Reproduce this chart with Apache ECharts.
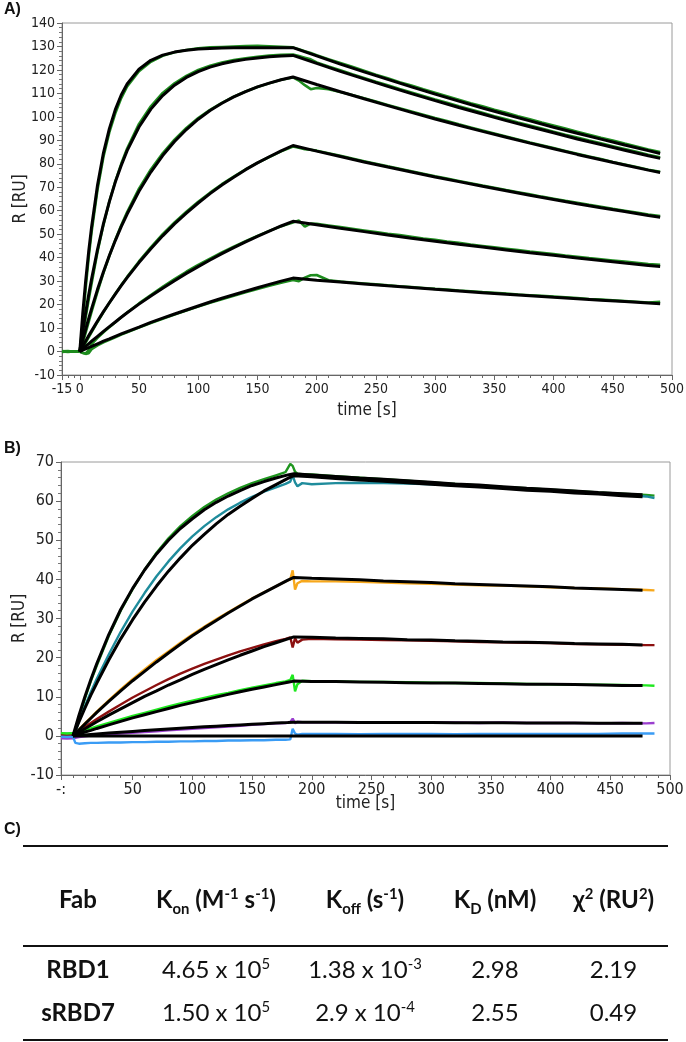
<!DOCTYPE html>
<html><head><meta charset="utf-8">
<script src="https://cdn.jsdelivr.net/npm/echarts@6/dist/echarts.min.js"></script>
<style>
html,body{margin:0;padding:0;background:#fff;}
#chart{position:absolute;left:0;top:0;width:686px;height:1042px;}
#tbl{position:absolute;left:23px;top:845px;width:645px;font-family:Lato,'Noto Sans',sans-serif;color:#111;}
#tbl table{border-collapse:collapse;width:645px;table-layout:fixed;}
#tbl td{text-align:center;padding:0;white-space:nowrap;line-height:1;}
#tbl .hdr td{font-weight:bold;font-size:24px;height:92px;border-top:2.5px solid #111;border-bottom:2.5px solid #111;padding-top:6px;}
#tbl .row td{font-size:24px;}
#tbl .r0 td{height:44px;}
#tbl .r1 td{height:42px;padding-bottom:6px;border-bottom:2.5px solid #111;}
#tbl .row td:first-child{font-weight:bold;}
sup,sub{font-size:62%;line-height:0;}
</style></head>
<body>
<div id="chart"></div>
<div id="tbl"></div>
<script>
// ---------- Panel A data ----------
const xTicksA = [-15, 0, 50, 100, 150, 200, 250, 300, 350, 400, 450, 500];
const xMinorA = [-10, -5, 10, 20, 30, 40, 60, 70, 80, 90, 110, 120, 130, 140, 160, 170, 180, 190, 210, 220, 230, 240, 260, 270, 280, 290, 310, 320, 330, 340, 360, 370, 380, 390, 410, 420, 430, 440, 460, 470, 480, 490];
const tFitA = [0, 2.5, 5, 7.5, 10, 15, 20, 25, 30, 35, 40, 50, 60, 70, 80, 90, 100, 110, 120, 130, 140, 150, 160, 170, 180, 200, 220, 240, 260, 280, 300, 320, 340, 360, 380, 400, 420, 440, 460, 480, 490];
const fitA1 = [0, 16.1, 30.2, 42.5, 53.2, 71.0, 84.7, 95.0, 103.1, 109.3, 114.0, 120.3, 124.1, 126.3, 127.6, 128.4, 128.9, 129.1, 129.3, 129.4, 129.4, 129.5, 129.5, 129.5, 129.5, 126.0, 122.5, 119.2, 116.0, 112.8, 109.7, 106.7, 103.8, 101.0, 98.3, 95.6, 93.0, 90.5, 88.0, 85.6, 84.4];
const fitA2 = [0, 8.6, 16.6, 24.1, 31.0, 43.6, 54.5, 63.9, 72.2, 79.3, 85.6, 95.7, 103.3, 109.1, 113.5, 116.8, 119.3, 121.2, 122.6, 123.7, 124.5, 125.1, 125.6, 125.9, 126.2, 122.8, 119.4, 116.2, 113.0, 109.9, 106.9, 104.0, 101.2, 98.4, 95.8, 93.2, 90.6, 88.2, 85.8, 83.4, 82.3];
const fitA3 = [0, 4.9, 9.5, 14.0, 18.3, 26.5, 34.0, 40.9, 47.3, 53.2, 58.6, 68.3, 76.5, 83.5, 89.5, 94.6, 99.0, 102.7, 105.8, 108.5, 110.8, 112.8, 114.4, 115.8, 117.0, 113.8, 110.7, 107.7, 104.8, 101.9, 99.1, 96.4, 93.8, 91.3, 88.8, 86.4, 84.0, 81.7, 79.5, 77.3, 76.3];
const fitA4 = [0, 2.3, 4.5, 6.7, 8.8, 13.0, 17.0, 20.8, 24.5, 28.1, 31.5, 37.9, 43.8, 49.3, 54.4, 59.0, 63.3, 67.3, 71.0, 74.3, 77.5, 80.4, 83.0, 85.5, 87.8, 85.4, 83.1, 80.8, 78.6, 76.5, 74.4, 72.4, 70.4, 68.5, 66.6, 64.8, 63.0, 61.3, 59.7, 58.0, 57.2];
const fitA5 = [0, 1.1, 2.2, 3.3, 4.4, 6.5, 8.6, 10.6, 12.6, 14.6, 16.5, 20.2, 23.7, 27.0, 30.2, 33.3, 36.2, 39.0, 41.7, 44.3, 46.7, 49.1, 51.3, 53.5, 55.5, 54.0, 52.5, 51.1, 49.7, 48.3, 47.0, 45.7, 44.5, 43.3, 42.1, 41.0, 39.9, 38.8, 37.7, 36.7, 36.2];
const fitA6 = [0, 0.6, 1.1, 1.7, 2.2, 3.3, 4.4, 5.4, 6.5, 7.5, 8.5, 10.4, 12.4, 14.2, 16.0, 17.7, 19.4, 21.1, 22.7, 24.2, 25.7, 27.2, 28.6, 30.0, 31.3, 30.4, 29.6, 28.8, 28.0, 27.3, 26.5, 25.8, 25.1, 24.4, 23.8, 23.1, 22.5, 21.9, 21.3, 20.7, 20.4];

const tDataA = [-15, -10, -5, 0, 2.5, 5, 7.5, 10, 15, 20, 25, 30, 35, 40, 50, 60, 70, 80, 90, 100, 110, 120, 130, 140, 150, 160, 170, 180, 185, 190, 195, 200, 210, 220, 230, 240, 250, 260, 270, 280, 290, 300, 310, 320, 330, 340, 350, 360, 370, 380, 390, 400, 410, 420, 430, 440, 450, 460, 470, 480, 490];
const dataA1 = [0.2, -0.1, 0.1, 0.0, 12, 27, 40, 51, 69, 83, 93.5, 101.5, 108, 113, 119.5, 123.5, 126, 127.5, 128.5, 129.2, 129.6, 129.8, 130.0, 130.2, 130.3, 130.1, 129.9, 129.6, 128.8, 128.0, 127.2, 126.3, 124.6, 123.0, 121.4, 119.7, 118.0, 116.5, 114.8, 113.4, 111.8, 110.3, 108.8, 107.3, 105.8, 104.5, 103.0, 101.7, 100.3, 99.0, 97.6, 96.3, 95.0, 93.7, 92.4, 91.1, 89.9, 88.6, 87.4, 86.1, 85.0];
const dataA2 = [0.1, 0.2, -0.1, 0.1, 6, 14.5, 22, 29, 42.5, 54, 64, 72.5, 80, 86.5, 97, 104.5, 110.2, 114.3, 117.5, 120, 121.8, 123.2, 124.2, 125.0, 125.6, 126.1, 126.4, 126.6, 125.9, 125.2, 124.5, 123.2, 121.5, 119.9, 118.2, 116.6, 115.0, 113.5, 111.9, 110.4, 108.9, 107.4, 106.0, 104.5, 103.1, 101.7, 100.3, 99.0, 97.6, 96.3, 95.0, 93.7, 92.4, 91.2, 89.9, 88.7, 87.5, 86.3, 85.1, 83.9, 82.8];
const dataA3 = [0.0, 0.1, 0.0, -0.1, 3.5, 8, 12.5, 17, 25.5, 33.5, 40.8, 47.6, 53.8, 59.4, 69.4, 77.6, 84.5, 90.3, 95.3, 99.5, 103.0, 106.0, 108.6, 110.8, 112.7, 114.3, 115.8, 116.8, 115.5, 113.5, 111.8, 112.3, 111.8, 110.6, 109.3, 107.9, 106.5, 105.1, 103.7, 102.3, 100.9, 99.5, 98.2, 96.8, 95.5, 94.2, 92.9, 91.6, 90.4, 89.1, 87.9, 86.7, 85.5, 84.3, 83.1, 82.0, 80.8, 79.7, 78.6, 77.5, 76.6];
const dataA4 = [-0.1, 0.0, 0.1, 0.0, 1.5, 3.8, 6, 8.3, 12.6, 16.8, 20.8, 24.6, 28.3, 31.8, 38.4, 44.4, 50.0, 55.0, 59.6, 63.8, 67.7, 71.3, 74.5, 77.6, 80.4, 82.9, 85.3, 87.4, 86.8, 86.2, 86.0, 85.6, 84.5, 83.4, 82.2, 81.1, 80.0, 78.9, 77.9, 76.8, 75.8, 74.7, 73.7, 72.7, 71.7, 70.7, 69.8, 68.8, 67.9, 67.0, 66.0, 65.1, 64.2, 63.4, 62.5, 61.7, 60.8, 60.0, 59.2, 58.4, 57.7];
const dataA5 = [0.0, -0.2, 0.0, -0.1, -0.5, -0.8, 0.5, 3.2, 5.8, 8.2, 10.4, 12.5, 14.6, 16.6, 20.5, 24.1, 27.6, 30.9, 34.0, 36.9, 39.6, 42.2, 44.7, 47.0, 49.3, 51.4, 53.4, 55.0, 55.8, 53.2, 54.5, 54.4, 53.7, 53.0, 52.3, 51.6, 50.9, 50.2, 49.6, 48.9, 48.2, 47.6, 46.9, 46.3, 45.6, 45.0, 44.4, 43.8, 43.2, 42.6, 42.1, 41.5, 40.9, 40.4, 39.8, 39.3, 38.8, 38.3, 37.8, 37.3, 37.0];
const dataA6 = [-0.2, 0.0, -0.1, 0.0, -0.6, -1.0, -0.7, 1.0, 2.6, 3.9, 5.0, 6.1, 7.2, 8.2, 10.2, 12.1, 14.0, 15.8, 17.5, 19.2, 20.8, 22.3, 23.8, 25.3, 26.7, 28.0, 29.3, 30.5, 30.0, 31.5, 32.5, 32.6, 30.4, 29.8, 29.4, 29.0, 28.6, 28.2, 27.8, 27.5, 27.1, 26.7, 26.4, 26.0, 25.7, 25.3, 25.0, 24.7, 24.3, 24.0, 23.7, 23.4, 23.1, 22.8, 22.4, 22.1, 21.8, 21.5, 21.2, 20.9, 21.2];

// ---------- Panel B data ----------
const xTicksB = [-10, 50, 100, 150, 200, 250, 300, 350, 400, 450, 500];
const xMinorB = [0, 10, 20, 30, 40, 60, 70, 80, 90, 110, 120, 130, 140, 160, 170, 180, 190, 210, 220, 230, 240, 260, 270, 280, 290, 310, 320, 330, 340, 360, 370, 380, 390, 410, 420, 430, 440, 460, 470, 480, 490];
const tFitB = [0, 5, 10, 15, 20, 30, 40, 50, 60, 70, 80, 90, 100, 110, 120, 130, 140, 150, 160, 170, 180, 185, 200, 220, 240, 260, 280, 300, 320, 340, 360, 380, 400, 420, 440, 460, 477];
const fitB1 = [0, 5.2, 10.0, 14.4, 18.5, 25.9, 32.3, 37.7, 42.4, 46.5, 50.0, 53.0, 55.5, 57.8, 59.7, 61.3, 62.7, 64.0, 65.0, 65.9, 66.7, 67.0, 66.7, 66.3, 65.9, 65.6, 65.2, 64.8, 64.4, 64.1, 63.7, 63.3, 63.0, 62.6, 62.2, 61.9, 61.6];
const fitB2 = [0, 3.6, 7.1, 10.4, 13.5, 19.4, 24.8, 29.7, 34.2, 38.3, 42.1, 45.5, 48.7, 51.5, 54.2, 56.6, 58.7, 60.7, 62.6, 64.2, 65.8, 66.5, 66.2, 65.8, 65.4, 65.1, 64.7, 64.3, 63.9, 63.6, 63.2, 62.8, 62.5, 62.1, 61.8, 61.4, 61.1];
const fitB3 = [0, 1.5, 3.0, 4.5, 6.0, 8.8, 11.5, 14.1, 16.5, 18.9, 21.2, 23.4, 25.6, 27.6, 29.5, 31.4, 33.2, 35.0, 36.6, 38.2, 39.8, 40.5, 40.3, 40.1, 39.9, 39.6, 39.4, 39.2, 38.9, 38.7, 38.5, 38.3, 38.1, 37.8, 37.6, 37.4, 37.2];
const fitB4 = [0, 0.9, 1.8, 2.7, 3.6, 5.3, 6.9, 8.5, 10.1, 11.5, 13.0, 14.3, 15.7, 17.0, 18.2, 19.4, 20.6, 21.7, 22.8, 23.8, 24.8, 25.3, 25.2, 25.0, 24.9, 24.8, 24.6, 24.5, 24.3, 24.2, 24.0, 23.9, 23.8, 23.6, 23.5, 23.4, 23.2];
const fitB5 = [0, 0.5, 1.0, 1.4, 1.9, 2.8, 3.7, 4.6, 5.4, 6.2, 7.0, 7.8, 8.5, 9.2, 9.9, 10.6, 11.3, 11.9, 12.5, 13.1, 13.7, 14.0, 13.9, 13.9, 13.8, 13.7, 13.6, 13.5, 13.5, 13.4, 13.3, 13.2, 13.2, 13.1, 13.0, 12.9, 12.9];
const fitB6 = [0, 0.12, 0.24, 0.36, 0.48, 0.71, 0.93, 1.14, 1.35, 1.55, 1.75, 1.94, 2.13, 2.31, 2.48, 2.65, 2.81, 2.97, 3.13, 3.28, 3.42, 3.5, 3.48, 3.46, 3.44, 3.42, 3.40, 3.39, 3.37, 3.35, 3.33, 3.31, 3.29, 3.27, 3.25, 3.23, 3.22];
const fitB7 = [0, 0, 0, 0, 0, 0, 0, 0, 0, 0, 0, 0, 0, 0, 0, 0, 0, 0, 0, 0, 0, 0, 0, 0, 0, 0, 0, 0, 0, 0, 0, 0, 0, 0, 0, 0, 0];

const tDataB = [-10, -5, 0, 2, 5, 10, 15, 20, 30, 40, 50, 60, 70, 80, 90, 100, 110, 120, 130, 140, 150, 160, 170, 178, 182, 184, 186, 188, 192, 200, 220, 240, 260, 280, 300, 320, 340, 360, 380, 400, 420, 440, 460, 480, 487];
const dataB1 = [0.6, 0.5, 0.6, 0.8, 4.5, 9.5, 14.0, 18.0, 25.5, 32.0, 37.5, 42.5, 46.8, 50.5, 53.6, 56.2, 58.5, 60.4, 62.0, 63.4, 64.6, 65.6, 66.6, 67.4, 69.5, 69.0, 67.5, 67.0, 66.9, 66.8, 66.4, 66.0, 65.6, 65.2, 64.8, 64.4, 64.0, 63.6, 63.3, 62.9, 62.6, 62.2, 61.9, 61.6, 61.4];
const dataB2 = [0.4, 0.5, 0.4, 0.6, 3.8, 7.6, 11.2, 14.6, 20.8, 26.6, 31.8, 36.5, 40.8, 44.6, 48.0, 51.0, 53.6, 55.9, 57.9, 59.6, 61.1, 62.4, 63.5, 64.4, 65.0, 66.6, 64.8, 63.8, 64.6, 64.3, 64.6, 64.7, 64.6, 64.5, 64.3, 64.0, 63.7, 63.4, 63.0, 62.7, 62.3, 62.0, 61.6, 61.2, 60.8];
const dataB3 = [0.3, 0.2, 0.3, 0.4, 1.6, 3.2, 4.7, 6.2, 9.1, 11.9, 14.5, 17.0, 19.4, 21.6, 23.8, 25.9, 27.9, 29.8, 31.6, 33.4, 35.1, 36.7, 38.2, 39.5, 40.0, 42.3, 37.4, 39.0, 39.6, 39.5, 39.5, 39.4, 39.2, 39.0, 38.9, 38.7, 38.5, 38.4, 38.2, 38.0, 37.8, 37.7, 37.5, 37.3, 37.2];
const dataB4 = [0.2, 0.3, 0.2, 0.3, 1.2, 2.3, 3.3, 4.3, 6.2, 8.0, 9.8, 11.4, 13.0, 14.5, 15.9, 17.2, 18.4, 19.5, 20.6, 21.6, 22.5, 23.4, 24.2, 24.8, 25.2, 22.6, 25.0, 23.8, 24.6, 24.8, 24.7, 24.6, 24.5, 24.4, 24.3, 24.2, 24.0, 23.9, 23.8, 23.7, 23.5, 23.4, 23.3, 23.2, 23.2];
const dataB5 = [0.7, 0.6, 0.7, 0.6, 0.9, 1.4, 1.9, 2.4, 3.3, 4.2, 5.1, 5.9, 6.7, 7.5, 8.3, 9.0, 9.7, 10.4, 11.0, 11.7, 12.3, 12.9, 13.5, 13.9, 14.3, 15.6, 11.4, 13.2, 14.1, 14.0, 13.9, 13.8, 13.8, 13.7, 13.6, 13.5, 13.5, 13.4, 13.3, 13.2, 13.1, 13.1, 13.0, 12.9, 12.8];
const dataB6 = [-0.6, -0.7, -0.6, -0.5, -0.3, -0.1, 0.1, 0.2, 0.4, 0.6, 0.8, 1.0, 1.2, 1.4, 1.6, 1.8, 2.0, 2.2, 2.4, 2.6, 2.8, 3.0, 3.2, 3.3, 3.5, 4.4, 3.2, 3.6, 3.5, 3.5, 3.5, 3.4, 3.5, 3.4, 3.4, 3.4, 3.3, 3.4, 3.3, 3.3, 3.3, 3.2, 3.3, 3.2, 3.3];
const dataB7 = [-0.2, -0.3, -0.2, -1.8, -2.0, -1.9, -1.8, -1.8, -1.7, -1.7, -1.6, -1.6, -1.5, -1.5, -1.4, -1.4, -1.3, -1.3, -1.2, -1.2, -1.1, -1.1, -1.0, -1.0, -0.9, 1.8, 0.6, 0.3, 0.5, 0.5, 0.5, 0.4, 0.5, 0.5, 0.5, 0.4, 0.5, 0.5, 0.5, 0.5, 0.5, 0.5, 0.6, 0.6, 0.6];
const colorsB = ['#1f961f', '#1f8c9c', '#f7a81c', '#8c1010', '#1fe81f', '#9b3fcf', '#3a9cf5'];

// ---------- Panel C table ----------
const tableHeader = ['Fab', 'K<sub>on</sub> (M<sup>-1</sup> s<sup>-1</sup>)', 'K<sub>off</sub> (s<sup>-1</sup>)', 'K<sub>D</sub> (nM)', 'χ<sup>2</sup> (RU<sup>2</sup>)'];
const fabNames = ['RBD1', 'sRBD7'];
const kon = ['4.65 x 10<sup>5</sup>', '1.50 x 10<sup>5</sup>'];
const koff = ['1.38 x 10<sup>-3</sup>', '2.9 x 10<sup>-4</sup>'];
const kd = ['2.98', '2.55'];
const chi2 = ['2.19', '0.49'];
const colWidths = [110, 166, 132, 128, 109];

// ---------- build ----------
const pairs = (t, v) => t.map((x, i) => [x, v[i]]);
const FONT = "'DejaVu Sans Condensed','DejaVu Sans',sans-serif";

function xAxes(grid, min, ticks, minor, fs, nameGap, lblFmt) {
  return [{
    type: 'value', gridIndex: grid, min: min, max: 500, position: 'bottom',
    name: 'time [s]', nameLocation: 'middle', nameGap: nameGap, nameMoveOverlap: false,
    nameTextStyle: {fontFamily: FONT, fontSize: 17, color: '#222'},
    axisLine: {show: true, onZero: false, lineStyle: {color: '#666', width: 1}},
    axisTick: {show: true, length: 5, customValues: ticks, lineStyle: {color: '#666'}},
    axisLabel: {customValues: ticks, fontFamily: FONT, fontSize: fs, color: '#222', margin: 7, formatter: lblFmt},
    splitLine: {show: false}
  }, {
    type: 'value', gridIndex: grid, min: min, max: 500, position: 'bottom',
    axisLine: {show: false, onZero: false},
    axisTick: {show: true, length: 3, customValues: minor, lineStyle: {color: '#666'}},
    axisLabel: {show: false}, splitLine: {show: false}
  }];
}
function yAxis(grid, min, max, fs, nameGap) {
  return {
    type: 'value', gridIndex: grid, min: min, max: max, interval: 10, position: 'left',
    name: 'R [RU]', nameLocation: 'middle', nameGap: nameGap, nameMoveOverlap: false,
    nameTextStyle: {fontFamily: FONT, fontSize: 17, color: '#222'},
    axisLine: {show: true, onZero: false, lineStyle: {color: '#666', width: 1}},
    axisTick: {show: true, length: 5, lineStyle: {color: '#666'}},
    minorTick: {show: true, splitNumber: 5, length: 3, lineStyle: {color: '#777'}},
    axisLabel: {fontFamily: FONT, fontSize: fs, color: '#222', margin: 7},
    splitLine: {show: false}
  };
}

const series = [];
[dataA1, dataA2, dataA3, dataA4, dataA5, dataA6].forEach(d => series.push({
  type: 'line', xAxisIndex: 0, yAxisIndex: 0, data: pairs(tDataA, d), showSymbol: false,
  lineStyle: {color: '#1e8c1e', width: 2.6}, silent: true
}));
[fitA1, fitA2, fitA3, fitA4, fitA5, fitA6].forEach(d => series.push({
  type: 'line', xAxisIndex: 0, yAxisIndex: 0, data: pairs(tFitA, d), showSymbol: false,
  lineStyle: {color: '#000', width: 3}, silent: true
}));
[dataB1, dataB2, dataB3, dataB4, dataB5, dataB6, dataB7].forEach((d, i) => series.push({
  type: 'line', xAxisIndex: 2, yAxisIndex: 1, data: pairs(tDataB, d), showSymbol: false,
  lineStyle: {color: colorsB[i], width: 2.4}, silent: true
}));
[fitB1, fitB2, fitB3, fitB4, fitB5, fitB6, fitB7].forEach(d => series.push({
  type: 'line', xAxisIndex: 2, yAxisIndex: 1, data: pairs(tFitB, d), showSymbol: false,
  lineStyle: {color: '#000', width: 3}, silent: true
}));

const chart = echarts.init(document.getElementById('chart'), null, {renderer: 'canvas'});
chart.setOption({
  animation: false,
  backgroundColor: '#fff',
  grid: [
    {left: 62, top: 23, width: 610, height: 352, show: true, borderColor: '#9a9a9a', borderWidth: 1, containLabel: false, outerBoundsMode: 'none'},
    {left: 61, top: 462, width: 609, height: 313, show: true, borderColor: '#9a9a9a', borderWidth: 1, containLabel: false, outerBoundsMode: 'none'}
  ],
  xAxis: [].concat(
    xAxes(0, -15, xTicksA, xMinorA, 14, 27, v => String(v)),
    xAxes(1, -10, xTicksB, xMinorB, 16, 20, v => (v === -10 ? '-:' : String(v)))
  ),
  yAxis: [yAxis(0, -10, 140, 14, 33), yAxis(1, -10, 70, 16, 33)],
  graphic: [
    {type: 'text', left: 4, top: 2, style: {text: 'A)', font: "bold 16px 'Liberation Sans', Arial, sans-serif", fill: '#111'}},
    {type: 'text', left: 4, top: 441, style: {text: 'B)', font: "bold 16px 'Liberation Sans', Arial, sans-serif", fill: '#111'}},
    {type: 'text', left: 4, top: 822, style: {text: 'C)', font: "bold 16px 'Liberation Sans', Arial, sans-serif", fill: '#111'}}
  ],
  series: series
});

// table
let html = '<table><colgroup>' + colWidths.map(w => '<col style="width:' + w + 'px">').join('') + '</colgroup>';
html += '<tr class="hdr">' + tableHeader.map(h => '<td>' + h + '</td>').join('') + '</tr>';
fabNames.forEach((f, i) => {
  html += '<tr class="row r' + i + '"><td>' + f + '</td><td>' + kon[i] + '</td><td>' + koff[i] + '</td><td>' + kd[i] + '</td><td>' + chi2[i] + '</td></tr>';
});
html += '</table>';
document.getElementById('tbl').innerHTML = html;
</script>
</body></html>
